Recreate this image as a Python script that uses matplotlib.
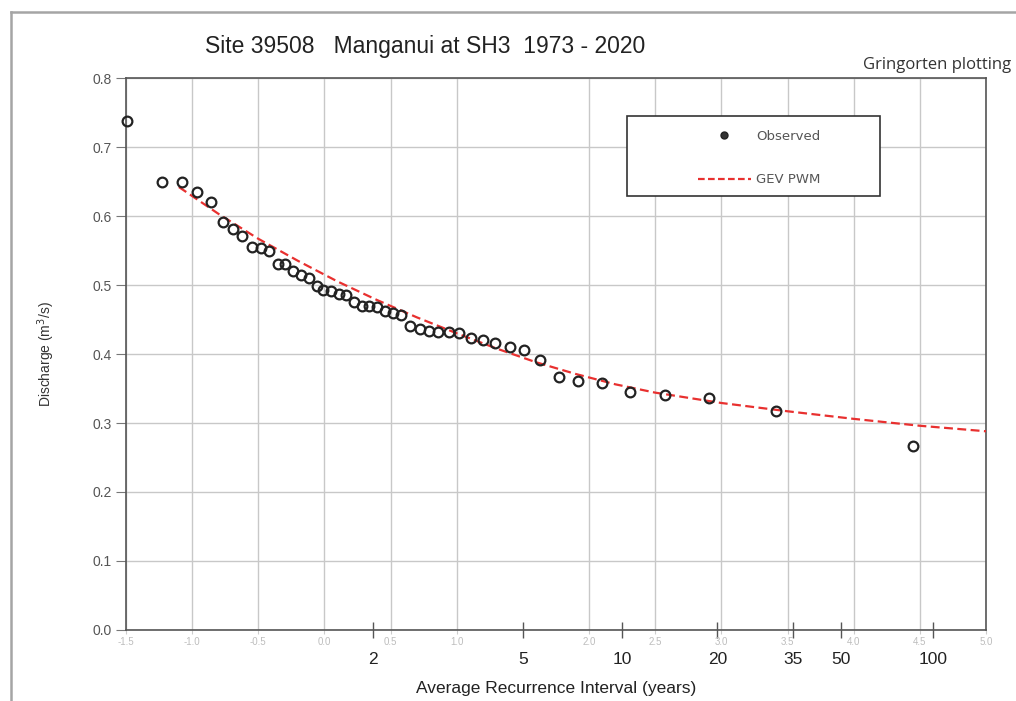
import numpy as np
import matplotlib
matplotlib.use("Agg")
import matplotlib.pyplot as plt
from matplotlib import font_manager
from matplotlib.patches import Rectangle
from matplotlib.lines import Line2D

# observed annual low flows, highest first (m3/s)
discharge = [0.737, 0.650, 0.650, 0.635, 0.620, 0.592, 0.581, 0.571, 0.555, 0.553,
             0.550, 0.531, 0.531, 0.520, 0.514, 0.510, 0.499, 0.493, 0.492, 0.487,
             0.486, 0.476, 0.469, 0.469, 0.468, 0.463, 0.459, 0.457, 0.440, 0.436,
             0.434, 0.432, 0.432, 0.430, 0.423, 0.420, 0.416, 0.410, 0.406, 0.392,
             0.367, 0.361, 0.358, 0.345, 0.341, 0.336, 0.318, 0.267]
# Gringorten plotting positions (reduced variate) for each point
variate = [-1.49, -1.23, -1.08, -0.96, -0.86, -0.77, -0.69, -0.62, -0.55, -0.48,
           -0.42, -0.35, -0.30, -0.24, -0.18, -0.12, -0.06, -0.01, 0.05, 0.11,
           0.16, 0.22, 0.28, 0.34, 0.40, 0.46, 0.52, 0.58, 0.65, 0.72,
           0.79, 0.86, 0.94, 1.02, 1.11, 1.20, 1.29, 1.40, 1.51, 1.63,
           1.77, 1.92, 2.10, 2.31, 2.57, 2.91, 3.41, 4.45]

# GEV PWM fitted curve
gev_x = [-1.10, -0.80, -0.50, -0.20, 0.10, 0.40, 0.70, 1.00, 1.30, 1.60,
         1.90, 2.20, 2.50, 3.00, 3.50, 4.00, 4.50, 5.00]
gev_q = [0.642, 0.603, 0.567, 0.535, 0.505, 0.478, 0.453, 0.430, 0.408, 0.388,
         0.371, 0.356, 0.344, 0.329, 0.317, 0.306, 0.296, 0.288]

# recurrence interval labels and their reduced variate positions
ari_labels = ["2", "5", "10", "20", "35", "50", "100"]
ari_pos = [0.367, 1.500, 2.250, 2.970, 3.541, 3.902, 4.600]
variate_ticks = [-1.5, -1.0, -0.5, 0.0, 0.5, 1.0, 1.5, 2.0, 2.5, 3.0, 3.5, 4.0, 4.5, 5.0]

plt.rcParams['font.family'] = ['Liberation Sans', 'DejaVu Sans']

# title font: narrow face if we have one, otherwise a smaller regular face
names = {f.name for f in font_manager.fontManager.ttflist}
if "Liberation Sans Narrow" in names:
    title_font, title_size = ["Liberation Sans Narrow", "DejaVu Sans"], 20
else:
    title_font, title_size = ["Liberation Sans", "DejaVu Sans"], 16.5

fig = plt.figure(figsize=(10.16, 7.01), dpi=100)
ax = fig.add_axes([0.124, 0.1013, 0.8465, 0.7874])

# outer frame of the original image (left and top edges)
fig.add_artist(Line2D([11 / 1016, 11 / 1016], [0, 1 - 12 / 701], color="#a5a5a5", lw=1.8))
fig.add_artist(Line2D([11 / 1016, 1], [1 - 12 / 701, 1 - 12 / 701], color="#a5a5a5", lw=1.8))

ax.plot(gev_x, gev_q, color="#e8302f", lw=1.6, dashes=(4, 2), zorder=3)
ax.plot(variate, discharge, linestyle="none", marker="o", markersize=7,
        markerfacecolor="none", markeredgecolor="#222222", markeredgewidth=1.6, zorder=4,
        clip_on=False)

ax.set_xlim(-1.5, 5.0)
ax.set_ylim(0, 0.8)
ax.set_yticks(np.arange(0, 0.81, 0.1))
ax.set_yticklabels([f"{v:.1f}" for v in np.arange(0, 0.81, 0.1)])

ax.set_xticks(ari_pos)
ax.set_xticklabels(ari_labels)
ax.set_xticks(variate_ticks, minor=True)
ax.set_xticklabels([f"{v:.1f}" for v in variate_ticks], minor=True)

ax.tick_params(axis="x", which="major", direction="inout", length=12, width=1,
               color="#555555", pad=10, labelsize=12.5, labelcolor="#222222")
ax.tick_params(axis="x", which="minor", direction="out", length=3, width=0.8,
               color="#cccccc", pad=2, labelsize=7, labelcolor="#bdbdbd")
ax.tick_params(axis="y", direction="out", length=7, color="#777777",
               labelsize=10, labelcolor="#555555", pad=3)

ax.grid(True, which="minor", axis="x", color="#c8c8c8", lw=1)
ax.grid(True, which="major", axis="y", color="#c8c8c8", lw=1)
ax.grid(False, which="major", axis="x")
ax.set_axisbelow(True)
for s in ax.spines.values():
    s.set_color("#555555")
    s.set_linewidth(1.2)

ax.set_xlabel("Average Recurrence Interval (years)", fontsize=12.5, color="#222222", labelpad=10)
ax.set_ylabel("Discharge (m$^3$/s)", fontsize=10, color="#333333", labelpad=26)

fig.text(0.418, 0.934, "Site 39508   Manganui at SH3  1973 - 2020", ha="center", va="center",
         fontsize=title_size, color="#222222", family=title_font)
fig.text(0.995, 0.907, "Gringorten plotting", ha="right", va="center", fontsize=12,
         color="#333333", family=["Open Sans", "DejaVu Sans"])

# legend box
ax.add_patch(Rectangle((0.583, 0.786), 0.294, 0.145, transform=ax.transAxes,
                       facecolor="white", edgecolor="#333333", lw=1.2, zorder=5))
h_obs = Line2D([], [], linestyle="none", marker="o", markersize=5,
               markerfacecolor="#333333", markeredgecolor="#222222")
h_gev = Line2D([], [], color="#e8302f", lw=1.6, dashes=(3, 1.5))
leg = ax.legend([h_obs, h_gev], ["Observed", "GEV PWM"], loc="center",
                bbox_to_anchor=(0.736, 0.855), frameon=False,
                prop={"family": ["DejaVu Sans"], "size": 9.5},
                handlelength=4.0, labelspacing=2.3, handletextpad=0.4)
leg.set_zorder(6)
for t in leg.get_texts():
    t.set_color("#555555")

fig.savefig("out.png", dpi=100)
